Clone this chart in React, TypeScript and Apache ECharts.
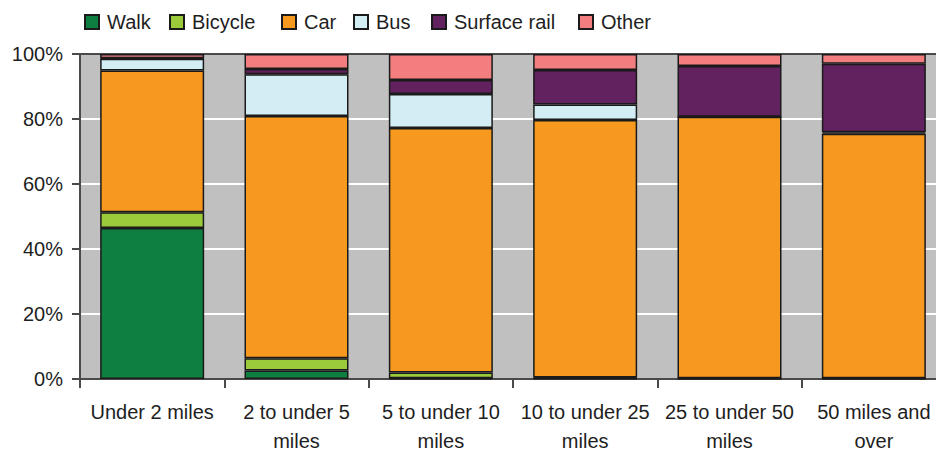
import React, { useEffect, useRef } from "react";
import * as echarts from "echarts";

// Share of trips by main mode, per trip-length band (percent of trips)
const categories = [
  "Under 2 miles",
  "2 to under 5\nmiles",
  "5 to under 10\nmiles",
  "10 to under 25\nmiles",
  "25 to under 50\nmiles",
  "50 miles and\nover",
];

const walk = [46.5, 2.6, 0.2, 0.2, 0.1, 0.1];
const bicycle = [4.8, 3.8, 1.8, 0.3, 0.1, 0.1];
const car = [43.6, 74.5, 75.2, 79.2, 80.5, 75.3];
const bus = [3.6, 12.9, 10.5, 4.8, 0, 0.4];
const surfaceRail = [0.2, 1.6, 4.3, 10.6, 15.6, 21.1];
const other = [1.3, 4.6, 8.0, 4.9, 3.7, 3.0];

const yTicks = [0, 20, 40, 60, 80, 100];

const modes = [
  { name: "Walk", data: walk, color: "#0E7F40", legendLeft: 84 },
  { name: "Bicycle", data: bicycle, color: "#9BCB3B", legendLeft: 169 },
  { name: "Car", data: car, color: "#F7991E", legendLeft: 281 },
  { name: "Bus", data: bus, color: "#D2EDF3", legendLeft: 353 },
  { name: "Surface rail", data: surfaceRail, color: "#62215F", legendLeft: 431 },
  { name: "Other", data: other, color: "#F27E80", legendLeft: 578 },
];

const FONT = "Liberation Sans";
const FONT_SIZE = 20;
const TEXT = "#1e1e1e";
const AXIS = "#4a4a4a";

export default function App() {
  const ref = useRef<HTMLDivElement>(null);

  useEffect(() => {
    document.body.style.margin = "0";
    if (!ref.current) return;
    const chart = echarts.init(ref.current, undefined, { renderer: "svg" });

    const splitColors = yTicks.map((v) =>
      v === 100 ? AXIS : v === 0 ? "#C0C0C0" : "#FFFFFF"
    );

    chart.setOption({
      animation: false,
      legend: modes.map((m) => ({
        data: [m.name],
        left: m.legendLeft,
        top: 12,
        padding: 0,
        itemWidth: 14,
        itemHeight: 14,
        icon: "rect",
        selectedMode: false,
        textStyle: {
          fontFamily: FONT,
          fontSize: FONT_SIZE,
          color: TEXT,
          padding: [0, 0, 0, 3],
        },
      })),
      grid: {
        left: 80,
        right: -10,
        top: 54,
        bottom: 71,
        outerBoundsMode: "none",
        containLabel: false,
        show: true,
        backgroundColor: "#C0C0C0",
        borderWidth: 0,
      },
      xAxis: {
        type: "category",
        data: categories,
        axisLine: { show: true, lineStyle: { color: AXIS, width: 2 } },
        axisTick: {
          show: true,
          length: 9,
          alignWithLabel: false,
          lineStyle: { color: AXIS, width: 2 },
        },
        axisLabel: {
          interval: 0,
          margin: 18,
          fontFamily: FONT,
          fontSize: FONT_SIZE,
          lineHeight: 29,
          color: TEXT,
        },
      },
      yAxis: {
        type: "value",
        min: 0,
        max: 100,
        interval: 20,
        axisLine: { show: true, lineStyle: { color: AXIS, width: 2 } },
        axisTick: { show: true, length: 8, lineStyle: { color: AXIS, width: 2 } },
        axisLabel: {
          margin: 17,
          fontFamily: FONT,
          fontSize: FONT_SIZE,
          color: TEXT,
          formatter: "{value}%",
        },
        splitLine: {
          show: true,
          lineStyle: { color: splitColors, width: 2 },
        },
      },
      series: modes.map((m) => ({
        name: m.name,
        type: "bar",
        stack: "share",
        data: m.data,
        barWidth: 104,
        itemStyle: {
          color: m.color,
          borderColor: "#1a1a1a",
          borderWidth: 1.5,
        },
      })),
    });

    return () => chart.dispose();
  }, []);

  return <div ref={ref} style={{ width: 936, height: 450 }} />;
}
